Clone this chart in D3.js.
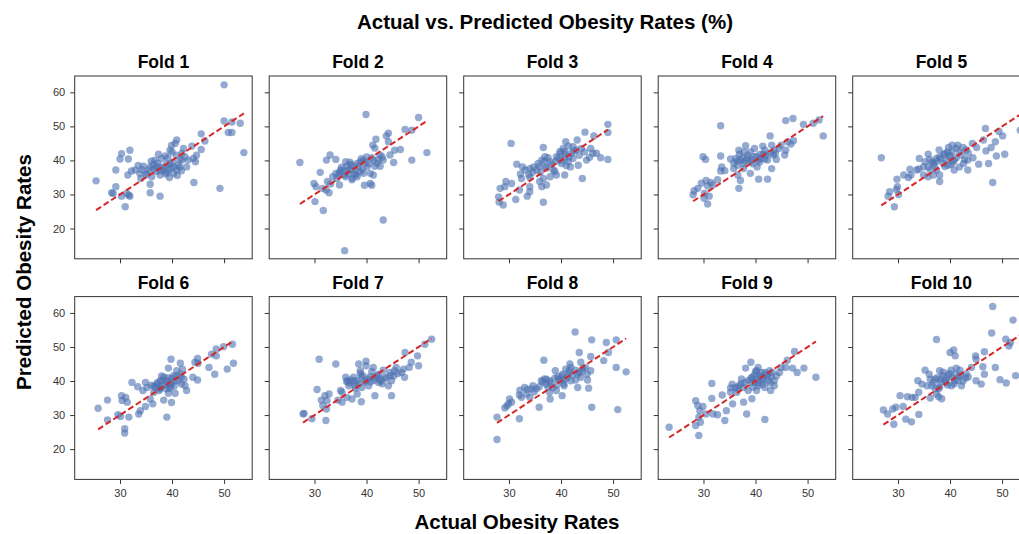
<!DOCTYPE html>
<html>
<head>
<meta charset="utf-8">
<script src="https://cdn.jsdelivr.net/npm/d3@7"></script>
<style>
  body { margin: 0; background: #fff; }
  text { font-family: "Liberation Sans", Arial, sans-serif; }
</style>
</head>
<body>
<div id="chart"></div>
<script>
// actual vs predicted pairs per fold
const fold1 = [[50,62.2],[50,51.6],[51.5,51.3],[53.1,50.9],[50.8,48.2],[51.5,48.2],[53.8,42.3],[49.2,31.8],[44.2,33.5],[45.6,47.8],
  [46.3,45.7],[45.6,43.2],[44.7,41.5],[44.5,39.6],[43.8,44.2],[40.9,46.0],[40.6,45.0],[39.9,44.4],[42.2,43.5],[41.5,40.3],
  [41.9,40.1],[42.8,38.1],[41.0,35.6],[39.6,43.0],[38.7,41.3],[37.4,41.8],[36.7,40.1],[36.4,38.8],[37.7,38.1],[38.3,37.2],
  [39.3,37.2],[40.3,38.1],[40.9,37.2],[35.8,38.1],[34.5,38.3],[34.2,37.3],[35.1,36.2],[34.0,34.7],[36.1,35.2],[35.8,33.0],
  [35.8,30.5],[37.7,29.5],[31.9,43.0],[30.3,42.0],[30.0,40.4],[31.6,40.4],[32.2,36.9],[31.5,35.7],[29.2,37.2],[29.2,32.3],
  [28.4,30.5],[28.7,30.3],[30.3,29.5],[31.7,29.8],[31.9,29.5],[31.0,26.4],[25.4,34.0],[39.0,39.0],[39.6,39.0],[37.1,38.1],
  [32.9,37.2],[33.8,36.2],[41.9,42.1],[43.1,40.1],[44.1,40.6],[41.5,38.1],[40.3,36.2],[39.0,36.5],[37.7,35.7],[31.3,30.3],
  [36.5,37.5],[37.2,39.2],[38.0,40.5],[38.5,38.0],[39.2,40.8],[39.8,37.8],[40.2,39.5],[40.8,41.5],[41.2,38.6],[37.0,36.8],
  [38.8,36.0],[35.5,37.2],[36.0,39.8],[39.5,35.0],[41.8,37.0],[42.5,41.0],[40.0,42.5],[37.8,37.0],[35.0,35.8],[33.5,38.5]];

const fold2 = [[39.9,53.5],[50,52.6],[47.4,49.1],[48.7,48.9],[51.6,42.3],[48.7,40.1],[45.2,39.4],[44.2,48.0],[43.8,47.2],[41.8,46.2],
  [41.2,44.5],[41.6,43.6],[44.2,45.5],[45.4,43.0],[46.5,43.2],[44.5,41.6],[43.2,40.1],[42.3,40.3],[41.3,40.1],[42.6,38.3],
  [41.6,38.3],[40.7,36.2],[41.3,35.7],[41.0,32.7],[39.6,32.7],[40.7,33.2],[39.4,40.1],[38.8,39.6],[38.2,39.1],[37.5,38.3],
  [36.9,37.2],[38.8,36.7],[39.4,36.2],[38.2,35.2],[37.2,34.3],[36.0,39.6],[36.2,38.3],[35.0,37.2],[35.7,35.7],[34.7,35.7],
  [34.1,36.2],[34.3,34.7],[33.0,41.6],[32.3,40.1],[34.1,40.3],[31.1,36.5],[32.5,33.8],[33.1,33.1],[34.8,32.8],[29.9,33.2],
  [30.3,32.3],[31.6,31.8],[32.2,31.3],[32.8,30.5],[30.1,27.9],[31.7,25.3],[27.2,39.4],[43.2,22.5],[35.8,13.5],[37.7,36.0],
  [36.4,37.2],[40.1,38.1],[42.6,41.6],
  [35.5,36.8],[36.5,36.0],[37.0,38.8],[37.8,37.2],[38.5,38.2],[39.0,40.5],[39.8,39.3],[40.5,39.0],[36.0,35.2],[36.8,39.5],
  [38.0,35.8],[40.0,41.0],[41.0,40.8],[42.0,39.2],[34.8,36.5],[33.5,35.2],[35.2,38.0],[39.2,37.5],[43.0,41.0],[37.3,34.8]];

const fold3 = [[30.4,45.0],[49.0,50.6],[49.0,48.2],[44.6,48.3],[46.3,47.2],[43.1,46.0],[40.9,45.5],[41.4,44.2],[36.6,43.8],[39.8,42.6],
  [40.7,42.6],[42.0,42.1],[42.9,43.1],[43.9,43.5],[45.7,43.5],[46.1,42.1],[46.8,42.1],[45.5,40.9],[47.6,40.8],[49.0,40.3],
  [44.9,40.1],[42.3,40.6],[40.7,40.6],[39.5,40.6],[39.1,41.1],[36.9,41.1],[36.3,40.1],[37.9,39.6],[40.1,39.1],[41.4,39.6],
  [43.3,38.6],[41.8,38.1],[35.6,39.1],[34.7,38.1],[34.0,37.6],[33.1,37.2],[32.6,38.1],[31.5,38.9],[35.3,37.2],[36.9,38.1],
  [38.5,37.2],[39.1,35.7],[40.7,35.7],[37.9,35.2],[36.6,34.7],[32.2,36.0],[32.4,34.7],[34.0,35.0],[35.9,33.8],[37.2,32.8],
  [36.3,32.3],[44.1,34.7],[29.4,33.8],[30.5,33.2],[28.3,31.8],[29.2,32.3],[34.0,32.3],[32.0,31.3],[33.5,29.5],[34.0,30.8],
  [28.0,29.3],[31.3,28.5],[28.1,27.8],[28.9,26.9],[36.6,27.7],[42.3,44.0],[40.4,43.5],
  [34.5,36.5],[35.8,38.2],[36.8,39.8],[37.5,40.8],[38.2,38.8],[39.0,39.8],[40.0,40.0],[40.8,41.8],[41.5,41.0],[42.5,42.8],
  [43.5,41.5],[37.2,37.8],[38.8,36.8],[36.0,36.5],[33.8,35.8],[44.5,42.5],[39.8,42.0],[41.0,38.5]];

const fold4 = [[33.3,50.2],[47.2,52.3],[45.8,51.7],[49.2,50.6],[51.1,50.9],[52.2,51.9],[53.0,47.2],[42.8,47.2],[47.3,45.8],[46.2,45.5],
  [44.9,44.5],[45.8,43.0],[43.1,44.5],[41.4,44.2],[39.8,43.5],[38.1,44.3],[36.8,43.0],[36.9,41.8],[35.2,40.4],[36.2,40.6],
  [37.1,40.1],[38.4,40.6],[39.7,41.1],[40.6,40.1],[41.8,40.4],[43.4,41.6],[44.0,40.3],[45.6,41.6],[41.5,41.8],[40.9,41.8],
  [42.3,40.1],[39.0,39.6],[37.7,39.1],[36.5,38.6],[35.8,37.6],[43.1,37.6],[39.0,36.2],[40.6,34.5],[42.3,34.5],[36.6,35.7],
  [37.1,34.1],[36.8,31.8],[33.3,41.3],[29.9,41.1],[30.4,40.3],[33.5,38.1],[33.3,36.9],[34.1,37.0],[32.7,34.3],[31.4,33.5],
  [30.5,34.1],[29.6,33.3],[30.8,32.5],[28.9,31.8],[28.2,31.1],[28.0,29.9],[30.2,30.3],[31.1,29.5],[30.1,28.9],[30.8,27.2],
  [31.8,32.8],[37.7,37.6],[40.3,38.1],[43.6,43.0],
  [37.5,40.8],[38.5,41.5],[39.2,40.2],[40.2,41.2],[41.0,40.6],[42.0,41.5],[42.8,42.2],[43.8,42.0],[38.0,39.8],[39.5,39.0],
  [40.8,39.5],[36.5,39.8],[37.8,42.5],[44.5,43.5],[46.8,44.8],[35.8,39.2],[41.8,43.0],[39.0,42.5]];

const fold5 = [[26.8,40.8],[46.8,49.4],[49.4,48.5],[50.1,47.2],[53.5,48.9],[46.4,46.0],[48.7,45.5],[44.3,45.0],[45.1,43.8],[46.9,42.8],
  [47.9,43.8],[48.9,41.3],[50.5,41.8],[47.4,39.1],[45.5,38.9],[48.2,33.5],[43.1,43.1],[42.2,41.6],[44.4,40.8],[43.4,40.1],
  [41.2,43.6],[40.4,44.5],[41.5,44.5],[40.4,42.6],[39.9,41.1],[40.8,40.1],[39.3,40.1],[38.7,39.1],[39.6,38.6],[40.8,37.2],
  [41.8,38.1],[43.4,37.2],[37.9,43.1],[38.0,41.1],[37.4,40.6],[35.8,41.8],[36.1,40.3],[35.2,39.6],[36.8,39.1],[35.8,38.1],
  [37.4,37.2],[38.0,35.7],[36.8,35.7],[38.0,33.8],[34.1,40.6],[34.9,38.1],[34.9,35.7],[35.8,35.2],[32.3,37.4],[31.1,35.7],
  [32.0,35.0],[32.5,35.7],[29.8,34.5],[29.9,32.3],[29.7,31.5],[28.4,30.8],[28.1,29.5],[30.1,30.0],[29.3,26.4],[33.6,37.2],
  [39.0,42.0],[42.6,39.1],[55.0,55.4],
  [36.5,39.5],[37.5,39.8],[38.2,40.5],[38.8,41.8],[39.5,42.5],[40.0,41.5],[40.6,39.5],[41.2,40.8],[41.8,42.5],[42.5,43.8],
  [37.0,38.5],[39.0,38.2],[40.2,38.8],[36.2,37.2],[34.0,37.5],[43.5,42.2],[42.8,40.2],[39.7,43.8]];

const fold6 = [[51.6,50.8],[49.9,50.1],[48.5,49.4],[47.6,47.9],[48.5,47.4],[50.6,43.5],[51.8,45.2],[48.2,42.0],[47.1,44.0],[44.9,46.6],
  [44.4,45.5],[45.0,45.2],[44.9,40.3],[44.0,41.1],[41.6,45.2],[39.8,46.4],[39.3,43.8],[40.9,43.0],[40.3,41.6],[41.6,42.0],
  [40.6,40.1],[41.8,39.1],[42.8,37.2],[42.5,38.6],[39.9,39.1],[39.0,40.1],[38.4,41.1],[37.7,40.1],[37.1,39.1],[38.1,38.6],
  [38.9,37.7],[39.3,36.4],[40.6,36.4],[38.4,34.4],[39.9,33.7],[39.0,29.4],[36.8,38.1],[36.5,36.7],[35.8,34.7],[36.3,33.3],
  [35.2,38.1],[34.9,39.6],[34.4,37.2],[33.4,38.3],[32.3,39.6],[34.9,32.5],[33.9,31.3],[33.6,30.3],[31.7,29.4],[30.3,35.7],
  [31.1,35.2],[31.4,33.8],[30.4,34.3],[27.6,34.4],[25.8,32.0],[29.6,30.1],[30.1,29.6],[27.6,28.6],[30.9,26.0],[30.9,24.7],
  [37.7,37.7],[39.7,38.3],
  [36.5,38.5],[37.2,39.5],[37.8,38.0],[38.2,40.2],[38.8,39.0],[39.2,41.0],[39.6,39.6],[40.0,40.8],[40.4,38.5],[40.9,41.5],
  [41.2,40.0],[41.8,41.2],[42.3,40.5],[37.5,37.2],[36.0,38.8],[38.0,41.5],[39.5,37.8],[42.0,43.5]];

const fold7 = [[52.5,52.3],[51.2,50.8],[49.8,47.4],[50.0,44.5],[47.4,48.4],[48.6,45.5],[48.2,44.0],[47.1,43.5],[46.7,42.5],[47.3,41.1],
  [45.7,44.0],[45.4,43.0],[46.0,42.2],[44.6,41.6],[44.8,40.1],[44.2,38.6],[44.8,35.7],[43.2,43.2],[43.5,41.1],[42.6,40.6],
  [41.6,41.1],[42.3,39.6],[41.6,35.7],[40.7,41.3],[39.9,45.8],[39.9,44.5],[41.3,44.0],[38.5,45.0],[38.8,43.0],[39.3,41.6],
  [39.9,40.1],[40.4,38.6],[39.1,38.1],[38.2,40.1],[37.5,41.1],[36.9,40.3],[36.0,41.1],[36.6,38.6],[37.9,37.9],[38.2,36.2],
  [37.2,34.7],[39.0,33.9],[35.3,36.7],[36.2,35.2],[35.0,37.2],[34.1,45.0],[30.9,46.4],[30.5,37.5],[32.8,36.2],[32.0,35.7],
  [31.3,34.4],[32.4,34.2],[34.5,34.4],[35.3,33.8],[31.6,32.8],[32.3,31.8],[28.0,30.5],[27.8,30.3],[29.5,28.9],[32.2,28.4],
  [36.3,40.1],[42.3,42.0],
  [36.8,39.5],[37.6,40.0],[38.5,39.2],[39.0,41.2],[39.6,39.8],[40.3,40.6],[40.8,39.8],[41.5,40.2],[42.0,41.5],[42.8,40.0],
  [43.8,40.8],[44.5,42.5],[45.2,41.5],[37.8,38.6],[38.8,42.2],[41.0,42.8],[43.0,39.2],[36.2,39.8]];

const fold8 = [[42.7,54.4],[45.9,52.1],[48.7,51.3],[50.6,52.1],[43.5,48.4],[45.7,47.2],[49.1,48.4],[48.2,46.0],[50.6,44.0],[52.5,42.7],
  [45.9,32.3],[50.9,31.6],[36.7,46.1],[41.7,45.0],[41.9,44.0],[43.8,45.5],[44.7,44.0],[45.7,43.0],[44.1,43.0],[43.2,42.0],
  [40.9,43.5],[40.3,42.0],[41.3,41.1],[41.9,40.1],[42.8,40.3],[43.8,41.1],[45.1,40.3],[43.2,38.1],[45.3,37.9],[38.9,43.0],
  [39.4,41.3],[40.0,40.1],[40.6,38.6],[40.2,35.7],[37.8,40.1],[36.8,40.6],[36.2,40.1],[37.1,39.1],[38.4,38.1],[37.8,36.7],
  [39.1,37.2],[37.9,34.7],[35.8,32.3],[35.8,38.3],[34.6,38.6],[34.3,37.7],[34.0,35.2],[33.0,38.1],[32.1,37.3],[32.0,35.9],
  [32.4,35.2],[33.4,36.2],[30.1,34.7],[30.5,33.8],[29.9,33.3],[29.2,32.1],[29.6,32.7],[32.0,28.9],[27.7,29.4],[27.7,22.8],
  [35.3,37.7],[41.6,43.0],
  [36.5,39.8],[37.2,40.5],[38.0,39.5],[38.8,40.8],[39.5,40.5],[40.2,41.5],[40.8,40.5],[41.5,42.2],[42.2,41.8],[42.8,43.2],
  [43.5,42.5],[44.2,43.8],[39.2,38.8],[40.5,39.2],[37.5,38.2],[34.8,36.8],[33.5,37.5],[45.0,42.0]];

const fold9 = [[23.4,26.4],[28.5,34.2],[28.9,32.8],[29.3,31.3],[29.9,32.5],[29.1,29.4],[28.5,26.9],[29.4,27.9],[29.1,24.0],[30.5,30.3],
  [31.6,39.3],[31.6,34.9],[31.8,30.3],[32.7,30.1],[33.6,35.9],[34.4,31.3],[34.1,28.4],[35.2,36.7],[35.5,39.1],[35.6,33.3],
  [36.1,38.1],[36.4,36.7],[36.8,38.6],[37.3,40.6],[37.7,33.8],[38.3,30.3],[38.1,43.8],[39.1,45.5],[39.3,34.8],[38.6,37.2],
  [37.7,38.1],[39.3,41.1],[40.2,43.0],[40.5,44.0],[41.1,42.5],[39.9,39.6],[40.5,38.6],[40.2,37.2],[41.4,40.1],[41.8,38.1],
  [42.4,40.1],[42.1,42.0],[42.7,43.0],[43.0,41.3],[43.6,38.6],[43.6,40.1],[42.9,37.2],[41.8,28.7],[44.9,44.0],[45.8,44.0],
  [46.1,46.1],[47.5,48.7],[47.1,43.8],[48.0,42.5],[49.3,43.8],[51.6,41.1],[44.6,42.5],[39.3,39.6],[38.0,39.6],[40.8,41.5],
  [38.6,40.2],[39.2,40.8],[39.8,41.8],[40.2,40.5],[40.6,39.5],[41.0,41.2],[41.5,40.8],[41.8,42.5],[42.3,41.5],[42.8,39.5],
  [43.2,42.5],[39.5,38.2],[40.0,42.8],[41.3,39.0],[37.2,39.2],[36.5,37.8],[35.2,38.0],[44.0,41.5]];

const fold10 = [[48.2,61.9],[52.1,57.9],[48.0,54.1],[50.7,52.3],[51.3,50.3],[51.6,51.3],[52.6,41.6],[48.7,44.0],[46.6,48.6],[44.9,47.4],
  [45.0,46.4],[46.3,44.2],[46.6,42.0],[45.0,40.1],[46.0,39.1],[49.6,40.4],[50.8,39.4],[37.4,52.2],[40.0,48.4],[40.7,49.1],
  [41.0,47.4],[40.2,43.2],[41.9,43.2],[44.1,44.0],[43.0,40.9],[41.7,41.3],[40.9,40.1],[39.7,41.6],[38.7,42.6],[38.1,40.5],
  [39.3,39.6],[40.3,38.6],[42.2,38.6],[38.0,43.0],[37.1,40.5],[36.2,40.5],[35.2,43.2],[35.6,38.6],[36.5,38.6],[37.8,37.7],
  [37.4,36.2],[38.4,34.8],[37.8,35.4],[36.2,35.0],[33.8,40.1],[34.6,39.1],[34.0,36.7],[33.3,35.2],[32.7,35.2],[31.8,35.4],
  [30.4,35.7],[31.0,32.5],[29.6,32.3],[27.2,31.5],[28.0,30.3],[29.0,31.8],[29.2,27.3],[31.5,28.8],[32.6,28.0],[34.0,30.2],
  [43.1,42.1],[39.0,40.1],[55.0,46.0],
  [36.8,39.6],[37.5,41.0],[38.2,39.5],[38.6,41.5],[39.2,40.6],[39.8,42.2],[40.4,41.0],[41.0,42.0],[41.5,40.2],[42.0,41.8],
  [42.5,40.0],[38.0,38.2],[39.5,38.8],[40.8,39.2],[36.0,42.0],[43.5,41.2],[37.2,37.8],[41.2,43.8]];

const folds = [fold1, fold2, fold3, fold4, fold5, fold6, fold7, fold8, fold9, fold10];
const foldTitles = ["Fold 1", "Fold 2", "Fold 3", "Fold 4", "Fold 5", "Fold 6", "Fold 7", "Fold 8", "Fold 9", "Fold 10"];
const xTicks = [30, 40, 50];
const yTicks = [20, 30, 40, 50, 60];
const xDomain = [21.3, 55.4];
const yDomain = [11.1, 64.8];

const width = 1019, height = 534;
const panelW = 177.5, panelH = 182.8;
const colStep = 194.5;
const left0 = 74.7;
const rowTops = [76, 296.6];

const svg = d3.select('#chart')
  .append('svg')
  .attr('width', width)
  .attr('height', height);

const x = d3.scaleLinear().domain(xDomain).range([0, panelW]);
const y = d3.scaleLinear().domain(yDomain).range([panelH, 0]);

folds.forEach((data, i) => {
  const row = Math.floor(i / 5), col = i % 5;
  const g = svg.append('g')
    .attr('transform', `translate(${left0 + col * colStep},${rowTops[row]})`);

  g.append('clipPath').attr('id', 'clip' + i)
    .append('rect').attr('width', panelW).attr('height', panelH);

  // y ticks everywhere, labels only in first column
  const yAxis = d3.axisLeft(y).tickValues(yTicks).tickSize(4.5).tickPadding(5)
    .tickFormat(col === 0 ? d3.format('d') : '');
  const ya = g.append('g').call(yAxis);
  // x ticks everywhere, labels only in bottom row
  const xAxis = d3.axisBottom(x).tickValues(xTicks).tickSize(4.5).tickPadding(5)
    .tickFormat(row === 1 ? d3.format('d') : '');
  const xa = g.append('g').attr('transform', `translate(0,${panelH})`).call(xAxis);

  [ya, xa].forEach(a => {
    a.select('.domain').remove();
    a.selectAll('line').attr('stroke', '#333');
    a.selectAll('text').attr('fill', '#333')
      .style('font-size', '11px')
      .style('font-family', '"Liberation Sans", Arial, sans-serif');
  });

  const plot = g.append('g').attr('clip-path', `url(#clip${i})`);

  plot.selectAll('circle')
    .data(data)
    .join('circle')
    .attr('cx', d => x(d[0]))
    .attr('cy', d => y(d[1]))
    .attr('r', 3.7)
    .attr('fill', '#4C72B0')
    .attr('fill-opacity', 0.6);

  // perfect-prediction line across the fold's actual range
  const ext = d3.extent(data, d => d[0]);
  plot.append('line')
    .attr('x1', x(ext[0])).attr('y1', y(ext[0]))
    .attr('x2', x(ext[1])).attr('y2', y(ext[1]))
    .attr('stroke', '#d62728')
    .attr('stroke-width', 2)
    .attr('stroke-dasharray', '6,3');

  g.append('rect')
    .attr('width', panelW).attr('height', panelH)
    .attr('fill', 'none')
    .attr('stroke', '#333')
    .attr('stroke-width', 1);

  g.append('text')
    .attr('x', panelW / 2).attr('y', -8)
    .attr('text-anchor', 'middle')
    .style('font-size', '17.5px')
    .style('font-weight', 'bold')
    .text(foldTitles[i]);
});

svg.append('text')
  .attr('x', 545).attr('y', 29)
  .attr('text-anchor', 'middle')
  .style('font-size', '20.5px')
  .style('font-weight', 'bold')
  .text('Actual vs. Predicted Obesity Rates (%)');

svg.append('text')
  .attr('x', 517).attr('y', 529)
  .attr('text-anchor', 'middle')
  .style('font-size', '20.5px')
  .style('font-weight', 'bold')
  .text('Actual Obesity Rates');

svg.append('text')
  .attr('transform', 'translate(31,272) rotate(-90)')
  .attr('text-anchor', 'middle')
  .style('font-size', '20.5px')
  .style('font-weight', 'bold')
  .text('Predicted Obesity Rates');
</script>
</body>
</html>
